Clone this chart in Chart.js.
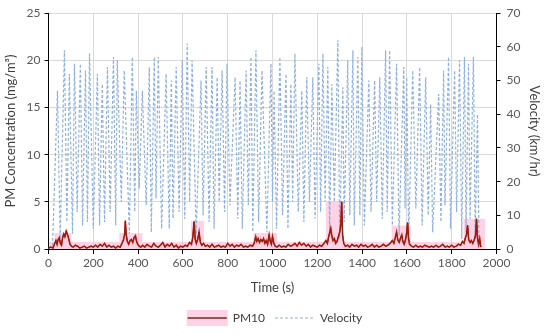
<!DOCTYPE html>
<html>
<head>
<meta charset="utf-8">
<script src="https://cdn.jsdelivr.net/npm/chart.js"></script>
<style>
  html, body { margin: 0; padding: 0; background: #fff; }
  #wrap { width: 550px; height: 334px; }
</style>
</head>
<body>
<div id="wrap"><canvas id="chart"></canvas></div>
<script>
// velocity (km/hr), peaks and troughs
var velTime = [0, 18, 40, 52, 71, 82, 93, 107, 116, 128, 142, 152, 165, 174, 183, 200, 218, 228, 240, 250,
  263, 275, 290, 300, 307, 325, 338, 361, 374, 385, 392, 405, 419, 436, 450, 459, 472, 480, 490, 505,
  525, 539, 548, 556, 570, 583, 597, 608, 619, 630, 641, 659, 681, 690, 704, 717, 730, 739, 753, 762,
  775, 786, 797, 810, 833, 845, 855, 865, 882, 892, 904, 912, 926, 938, 953, 975, 993, 1000, 1007, 1018,
  1033, 1045, 1060, 1069, 1082, 1090, 1100, 1115, 1131, 1140, 1153, 1165, 1180, 1190, 1207, 1215, 1225, 1235, 1247, 1255,
  1265, 1276, 1292, 1300, 1314, 1320, 1336, 1345, 1359, 1365, 1381, 1390, 1399, 1410, 1430, 1440, 1456, 1465, 1479, 1490,
  1505, 1512, 1523, 1535, 1554, 1565, 1586, 1592, 1599, 1608, 1626, 1640, 1657, 1668, 1684, 1695, 1706, 1715, 1742, 1752,
  1764, 1770, 1786, 1795, 1813, 1822, 1835, 1845, 1857, 1864, 1875, 1882, 1897, 1905, 1915, 1922];
var velValue = [0, 1, 47, 3, 59, 8, 52, 4.5, 55, 11, 55, 7, 53, 8, 58, 6, 52, 7, 49, 8,
  54, 11, 57, 7, 56, 14, 53, 4.5, 57, 11, 47, 18, 47, 13, 54, 5, 57, 15, 57, 6,
  52, 6, 50, 9, 54, 11, 56, 9, 61, 14, 56, 4.5, 50, 10, 54, 8, 54, 6, 51, 14,
  53, 11, 55, 13, 51, 9, 50, 6, 53, 13, 57, 5, 59, 8, 53, 5, 55, 14, 47, 6,
  57, 10, 52, 6, 49, 14, 58, 11, 47, 8, 51, 14, 51, 9, 55, 11, 58, 14, 54, 4,
  49, 14, 62, 3, 48, 8, 56, 10, 59, 7, 57, 10, 60, 7, 50, 11, 50, 14, 51, 9,
  59, 11, 59, 7, 55, 4, 54, 12, 51, 3, 53, 12, 54, 7, 51, 10, 43, 5, 46, 8,
  53, 13, 57, 6, 53, 11, 56, 3, 57, 5, 55, 9, 57, 3, 40, 1];

// PM10 (mg/m3)
var pmTime = [0, 10, 20, 28, 33, 38, 43, 48, 53, 58, 63, 68, 73, 79, 85, 90, 96, 102, 110, 120,
  130, 140, 150, 160, 170, 180, 190, 200, 210, 220, 230, 240, 250, 260, 270, 280, 290, 300, 310, 320,
  328, 335, 340, 343, 347, 352, 358, 364, 370, 376, 382, 388, 392, 398, 405, 412, 420, 430, 440, 450,
  460, 470, 480, 490, 500, 510, 520, 530, 540, 550, 560, 570, 580, 590, 600, 610, 620, 630, 638, 644,
  650, 655, 660, 666, 672, 678, 685, 692, 700, 710, 720, 730, 740, 750, 760, 770, 780, 790, 800, 810,
  820, 830, 840, 850, 860, 870, 880, 890, 900, 910, 918, 925, 930, 936, 942, 948, 954, 960, 966, 972,
  978, 985, 990, 995, 1000, 1006, 1012, 1020, 1030, 1040, 1050, 1060, 1070, 1080, 1090, 1100, 1110, 1120, 1130, 1140,
  1150, 1160, 1170, 1180, 1190, 1200, 1210, 1220, 1230, 1238, 1245, 1250, 1256, 1260, 1264, 1270, 1276, 1282, 1288, 1294,
  1300, 1305, 1309, 1313, 1318, 1325, 1335, 1345, 1355, 1365, 1375, 1385, 1395, 1405, 1415, 1425, 1435, 1445, 1455, 1465,
  1475, 1485, 1495, 1505, 1515, 1525, 1535, 1542, 1548, 1554, 1560, 1566, 1572, 1577, 1582, 1588, 1594, 1599, 1603, 1607,
  1612, 1620, 1630, 1640, 1650, 1660, 1670, 1680, 1690, 1700, 1710, 1720, 1730, 1740, 1750, 1760, 1770, 1780, 1790, 1800,
  1810, 1820, 1830, 1840, 1848, 1855, 1860, 1866, 1871, 1876, 1882, 1888, 1894, 1900, 1906, 1911, 1915, 1920, 1925, 1930];
var pmValue = [0.1, 0.2, 0.1, 0.6, 0.9, 0.5, 1.0, 1.2, 0.6, 0.4, 1.2, 1.6, 1.3, 1.9, 1.5, 1.1, 0.5, 0.3, 0.2, 0.4,
  0.3, 0.1, 0.2, 0.3, 0.1, 0.2, 0.3, 0.2, 0.4, 0.2, 0.5, 0.3, 0.6, 0.2, 0.4, 0.2, 0.3, 0.1, 0.3, 0.2,
  0.6, 1.0, 1.6, 3.0, 1.5, 0.8, 0.5, 0.9, 1.0, 0.7, 1.2, 1.4, 0.9, 0.5, 0.3, 0.2, 0.4, 0.2, 0.5, 0.3,
  0.2, 0.6, 0.3, 0.2, 0.4, 0.7, 0.2, 0.5, 0.3, 0.6, 0.2, 0.4, 0.1, 0.3, 0.2, 0.4, 0.3, 0.7, 0.5, 1.2,
  2.9, 1.0, 0.6, 1.0, 1.8, 0.7, 0.4, 0.6, 0.3, 0.4, 0.2, 0.5, 0.2, 0.3, 0.4, 0.2, 0.3, 0.2, 0.6, 0.3,
  0.5, 0.2, 0.4, 0.3, 0.5, 0.2, 0.3, 0.2, 0.4, 0.3, 0.6, 1.3, 0.8, 1.1, 0.7, 1.0, 0.8, 1.1, 0.6, 0.9,
  0.5, 1.5, 0.8, 0.5, 1.3, 0.6, 0.3, 0.2, 0.4, 0.2, 0.3, 0.2, 0.5, 0.3, 0.4, 0.6, 0.3, 0.7, 0.4, 0.6,
  0.3, 0.5, 0.2, 0.4, 0.3, 0.2, 0.4, 0.3, 0.6, 0.9, 0.6, 1.2, 1.8, 2.2, 1.5, 0.9, 1.1, 0.6, 0.8, 1.3,
  1.8, 2.6, 5.0, 1.5, 0.6, 0.3, 0.4, 0.2, 0.5, 0.3, 0.4, 0.2, 0.5, 0.3, 0.4, 0.2, 0.3, 0.5, 0.2, 0.4,
  0.2, 0.3, 0.5, 0.3, 0.4, 0.6, 0.9, 0.6, 1.2, 1.8, 0.9, 0.7, 1.2, 1.5, 0.8, 0.5, 1.0, 1.7, 2.8, 1.2,
  0.5, 0.3, 0.2, 0.4, 0.2, 0.3, 0.2, 0.4, 0.3, 0.2, 0.3, 0.2, 0.4, 0.2, 0.3, 0.5, 0.2, 0.3, 0.2, 0.4,
  0.2, 0.3, 0.5, 0.4, 0.8, 0.6, 1.1, 1.5, 2.5, 1.0, 0.7, 0.9, 0.6, 0.9, 1.4, 3.2, 1.2, 0.5, 1.1, 0.2];

// pink envelope behind PM10 (step heights)
var bandTime = [0, 27, 102, 316, 419, 636, 694, 915, 1020, 1238, 1314, 1532, 1617, 1853, 1950];
var bandTop = [0.75, 1.7, 0.75, 1.7, 0.75, 3.0, 0.75, 1.7, 0.75, 5.0, 0.75, 2.5, 0.75, 3.2, 3.2];

var xTicks = [0, 200, 400, 600, 800, 1000, 1200, 1400, 1600, 1800, 2000];

var bandColor = 'rgba(255, 180, 212, 0.6)';
var axisFont = { family: 'Lato', size: 12 };
var titleFont = { family: 'Lato', size: 13 };

function pairs(xs, ys) {
  var out = [];
  for (var i = 0; i < xs.length; i++) out.push({ x: xs[i], y: ys[i] });
  return out;
}

// pink box behind the PM10 legend line
var legendBand = {
  id: 'legendBand',
  beforeDraw: function (chart) {
    var boxes = chart.legend && chart.legend.legendHitBoxes;
    if (!boxes || !boxes.length) return;
    var b = boxes[0];
    var c = chart.ctx;
    c.save();
    c.fillStyle = bandColor;
    c.fillRect(b.left - 1, b.top - 2, 41, b.height + 4);
    c.restore();
  }
};

var ctx = document.getElementById('chart');
var chart = new Chart(ctx, {
  type: 'line',
  data: {
    datasets: [
      {
        label: 'PM10',
        data: pairs(pmTime, pmValue),
        yAxisID: 'y',
        borderColor: '#7a2a10',
        borderWidth: 1,
        pointRadius: 0,
        fill: false,
        tension: 0
      },
      {
        label: 'pm-under',
        data: pairs(pmTime, pmValue),
        yAxisID: 'y',
        borderColor: '#d81010',
        borderWidth: 1.6,
        pointRadius: 0,
        fill: false,
        tension: 0
      },
      {
        label: 'Velocity',
        data: pairs(velTime, velValue),
        yAxisID: 'y1',
        borderColor: '#8fb0e0',
        borderWidth: 1.2,
        borderDash: [3, 2],
        pointRadius: 0,
        fill: false,
        tension: 0
      },
      {
        label: 'band',
        data: pairs(bandTime, bandTop),
        yAxisID: 'y',
        borderWidth: 0,
        borderColor: 'rgba(0,0,0,0)',
        backgroundColor: bandColor,
        pointRadius: 0,
        stepped: 'before',
        fill: 'origin'
      }
    ]
  },
  options: {
    responsive: true,
    maintainAspectRatio: false,
    animation: false,
    layout: { padding: { top: 8, left: 3, right: 3, bottom: 0 } },
    plugins: {
      tooltip: { enabled: false },
      legend: {
        position: 'bottom',
        labels: {
          font: axisFont,
          color: '#404040',
          boxWidth: 39,
          boxHeight: 0,
          padding: 10,
          filter: function (item) { return item.text === 'PM10' || item.text === 'Velocity'; }
        }
      }
    },
    scales: {
      x: {
        type: 'linear',
        min: 0,
        max: 2000,
        afterBuildTicks: function (axis) { axis.ticks = xTicks.map(function (v) { return { value: v }; }); },
        grid: { color: '#d9d9d9', tickColor: '#000', tickLength: 5 },
        border: { color: '#000', width: 1 },
        ticks: {
          font: axisFont, color: '#595959', maxRotation: 0, padding: 2,
          callback: function (v) { return String(v); }
        },
        title: { display: true, text: 'Time (s)', font: titleFont, color: '#404040', padding: { top: 8, bottom: 6 } }
      },
      y: {
        position: 'left',
        min: 0,
        max: 25,
        ticks: { stepSize: 5, font: axisFont, color: '#595959', padding: 4 },
        grid: { color: '#d9d9d9', tickColor: '#000', tickLength: 4 },
        border: { color: '#000', width: 1 },
        title: { display: true, text: 'PM Concentration (mg/m³)', font: titleFont, color: '#404040', padding: { top: 0, bottom: 4 } }
      },
      y1: {
        position: 'right',
        min: 0,
        max: 70,
        ticks: { stepSize: 10, font: axisFont, color: '#595959', padding: 6 },
        grid: { drawOnChartArea: false, tickColor: '#000', tickLength: 4 },
        border: { color: '#000', width: 1 },
        title: { display: true, text: 'Velocity (km/hr)', font: titleFont, color: '#404040', padding: { top: 5, bottom: 0 } }
      }
    }
  },
  plugins: [legendBand]
});
</script>
</body>
</html>
